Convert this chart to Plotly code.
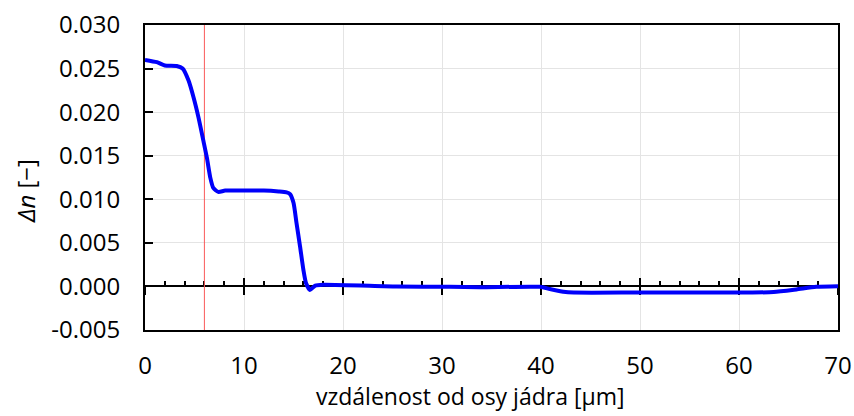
import plotly.graph_objects as go

# --- data ---
x_um = [0, 1.2, 2.0, 3.2, 3.8, 4.4, 4.9, 5.4, 5.9, 6.25, 6.6, 6.9, 7.4, 8.1, 10, 12, 13.5,
        14.3, 14.65, 15.0, 15.3, 15.66, 16.0, 16.26, 16.67, 17.2, 18.0, 25.4, 30.8, 33.8,
        39.9, 40.9, 42.25, 43.3, 50, 61.1, 63.5, 65.8, 67.8, 70]
dn = [0.0260, 0.02573, 0.02535, 0.0253, 0.0250, 0.02362, 0.0217, 0.0194, 0.0167, 0.01477,
      0.01246, 0.0113, 0.01085, 0.0110, 0.0110, 0.0110, 0.0109,
      0.0108, 0.0106, 0.0096, 0.0073, 0.0046, 0.0019, 0.0004, -0.0004, 0.0001, 0.0002,
      0.0000, -0.00005, -0.0001,
      -0.00005, -0.0003, -0.0006, -0.0007, -0.0007, -0.0007, -0.00065, -0.00035, -0.00005, 0.00003]

marker_x = 6  # red vertical reference line
y_range = [-0.005, 0.030]
x_range = [0, 70]
y_tickvals = [-0.005, 0.000, 0.005, 0.010, 0.015, 0.020, 0.025, 0.030]
y_ticktext = ["-0.005", "0.000", "0.005", "0.010", "0.015", "0.020", "0.025", "0.030"]
x_tickvals = [0, 10, 20, 30, 40, 50, 60, 70]
x_ticktext = ["0", "10", "20", "30", "40", "50", "60", "70"]

FONT = "Open Sans"
FS = 24
fig = go.Figure()

# invisible traces so the main and zero-position tick axes are drawn
for ax in ("x", "x2"):
    fig.add_trace(go.Scatter(x=x_range, y=[-1, -1], mode="lines",
                             line=dict(color="rgba(0,0,0,0)", width=0),
                             xaxis=ax, yaxis="y", showlegend=False, hoverinfo="skip"))
fig.add_trace(go.Scatter(x=[marker_x, marker_x], y=y_range, mode="lines",
                         line=dict(color="rgb(250,90,90)", width=1),
                         xaxis="x3", yaxis="y", showlegend=False, hoverinfo="skip"))
fig.add_trace(go.Scatter(x=x_um, y=dn, mode="lines",
                         line=dict(color="rgb(0,0,250)", width=4, shape="spline", smoothing=0.6),
                         xaxis="x3", yaxis="y", showlegend=False))

zero_pos = (0 - y_range[0]) / (y_range[1] - y_range[0])

fig.update_layout(
    template="none",
    width=854, height=416,
    margin=dict(l=145, r=16, t=25, b=86, autoexpand=False),
    paper_bgcolor="white", plot_bgcolor="white",
    font=dict(family=FONT, size=FS, color="black"),
    xaxis=dict(range=x_range, tickvals=x_tickvals, ticktext=x_ticktext, automargin=False,
               showgrid=True, gridcolor="#e4e4e4", gridwidth=1,
               showline=True, mirror=True, linecolor="black", linewidth=2,
               ticks="", zeroline=False, ticklabelstandoff=13,
               tickfont=dict(family=FONT, size=FS)),
    xaxis2=dict(range=x_range, overlaying="x", anchor="free", position=zero_pos, automargin=False,
                showgrid=False, zeroline=False, showline=False,
                tickvals=x_tickvals, ticks="inside", ticklen=8, tickwidth=2, tickcolor="black",
                minor=dict(dtick=2, tick0=0, ticks="inside", ticklen=5, tickwidth=2, tickcolor="black"),
                showticklabels=False, layer="below traces"),
    xaxis3=dict(range=x_range, overlaying="x", anchor="free", position=zero_pos, automargin=False,
                showgrid=False, zeroline=False, showline=False,
                tickvals=x_tickvals, ticks="outside", ticklen=8, tickwidth=2, tickcolor="black",
                showticklabels=False, layer="below traces"),
    yaxis=dict(range=y_range, tickvals=y_tickvals, ticktext=y_ticktext, automargin=False,
               showgrid=True, gridcolor="#e4e4e4", gridwidth=1,
               showline=True, mirror=True, linecolor="black", linewidth=2,
               ticks="inside", ticklen=8, tickwidth=2, tickcolor="black",
               zeroline=True, zerolinecolor="black", zerolinewidth=2,
               ticklabelstandoff=18, tickfont=dict(family=FONT, size=FS)),
    annotations=[
        dict(text="vzdálenost od osy jádra [µm]", xref="paper", yref="paper",
             x=(470 - 145) / 693, y=(330 - 396) / 305, xanchor="center", yanchor="middle",
             showarrow=False, font=dict(family=FONT, size=23)),
        dict(text="<i>Δn</i> [−]", xref="paper", yref="paper", textangle=-90,
             x=(25 - 145) / 693, y=(330 - 191) / 305, xanchor="center", yanchor="middle",
             showarrow=False, font=dict(family=FONT, size=FS)),
    ],
)

fig.write_html("out.html")
